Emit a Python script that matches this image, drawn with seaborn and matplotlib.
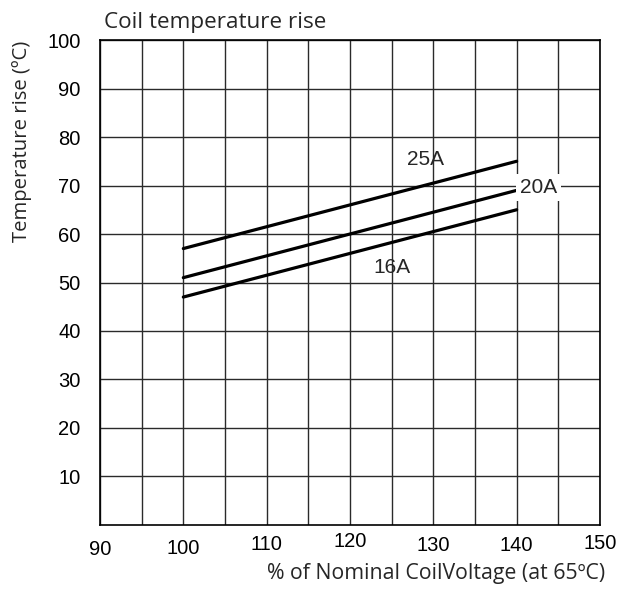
import matplotlib
matplotlib.use("Agg")
import matplotlib.pyplot as plt
import matplotlib.transforms as mtransforms
import seaborn as sns
import pandas as pd

# data
voltage_pct = [100, 110, 120, 130, 140]
rise_16a = [47, 51.5, 56, 60.5, 65]
rise_20a = [51, 55.5, 60, 64.5, 69]
rise_25a = [57, 61.5, 66, 70.5, 75]
currents = ["16A", "20A", "25A"]

x_ticks = [90, 100, 110, 120, 130, 140, 150]
y_ticks = [10, 20, 30, 40, 50, 60, 70, 80, 90, 100]
x_minor = [95, 105, 115, 125, 135, 145]

rows = []
for cur, vals in zip(currents, [rise_16a, rise_20a, rise_25a]):
    for v, t in zip(voltage_pct, vals):
        rows.append({"voltage": v, "rise": t, "current": cur})
df = pd.DataFrame(rows)

sns.set_style("white")
plt.rcParams["font.family"] = ["Liberation Sans", "DejaVu Sans"]

fig = plt.figure(figsize=(6.34, 5.92), dpi=100)
ax = fig.add_axes([0.1577, 0.1132, 0.7887, 0.8192])

sns.lineplot(data=df, x="voltage", y="rise", hue="current",
             palette=["black"] * 3, linewidth=2.3, legend=False, ax=ax, zorder=3)

ax.set_xlim(90, 150)
ax.set_ylim(0, 100)
ax.set_xticks(x_ticks)
ax.set_xticks(x_minor, minor=True)
ax.set_yticks(y_ticks)
ax.grid(True, which="both", color="#2a2a2a", linewidth=1.0)
ax.set_axisbelow(True)
for s in ax.spines.values():
    s.set_color("black")
    s.set_linewidth(1.2)
ax.tick_params(axis="both", which="both", length=0, labelsize=14.5, colors="black")
ax.tick_params(axis="y", pad=14)
ax.tick_params(axis="x", pad=8)

# the reference's x tick labels wobble up and down a little
wobble = [-3, -2, 1, 3, 0, 0, 1.5]
for lab, dy in zip(ax.get_xticklabels(), wobble):
    off = mtransforms.ScaledTranslation(0, dy / 72, fig.dpi_scale_trans)
    lab.set_transform(lab.get_transform() + off)

ax.set_xlabel("")
ax.set_ylabel("")
label_font = ["Open Sans", "DejaVu Sans"]
fig.text(0.164, 0.952, "Coil temperature rise", fontsize=16.2, family=label_font,
         ha="left", va="baseline")
fig.text(0.955, 0.022, "% of Nominal CoilVoltage (at 65ºC)", fontsize=15.3,
         family=label_font, ha="right", va="baseline")
fig.text(0.035, 0.932, "Temperature rise (ºC)", fontsize=14.6, family=label_font,
         rotation=90, ha="center", va="top")

ax.text(129, 75.4, "25A", fontsize=15, ha="center", va="center", zorder=4)
ax.text(142.6, 69.6, "20A", fontsize=15, ha="center", va="center", zorder=4,
        bbox=dict(facecolor="white", edgecolor="none", pad=3))
ax.text(125, 53.1, "16A", fontsize=15, ha="center", va="center", zorder=4)

fig.savefig("out.png", dpi=100)
